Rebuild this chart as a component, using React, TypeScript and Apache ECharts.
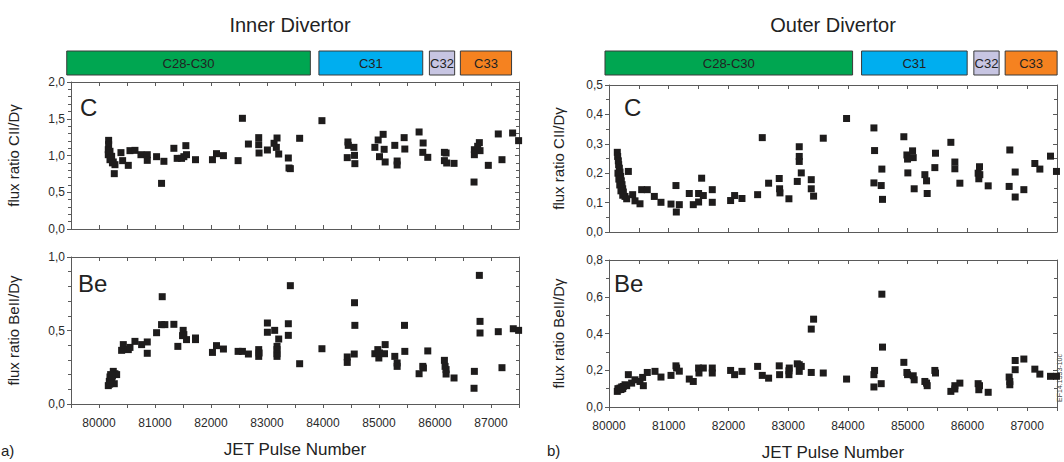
import React, { useEffect, useRef } from "react";
import * as echarts from "echarts";

// ---- data ----
const innerC: [number, number][] = [
  [80172, 1.206], [80172, 1.147], [80166, 1.079], [80196, 1.057], [80166, 1.011], [80226, 0.989],
  [80196, 0.943], [80255, 0.912], [80285, 0.875], [80273, 0.753], [80180, 1.03], [80210, 0.96],
  [80240, 0.9], [80392, 1.039], [80422, 0.93], [80523, 0.866], [80553, 1.066], [80642, 1.07],
  [80749, 1.011], [80862, 1.011], [80862, 0.934], [81028, 0.984], [81117, 0.621], [81159, 0.921],
  [81337, 1.098], [81396, 0.961], [81474, 0.961], [81551, 1.134], [81563, 1.011], [81515, 0.984],
  [81723, 0.943], [82026, 0.943], [82098, 1.025], [82222, 0.998], [82484, 0.93], [82561, 1.506],
  [82668, 1.156], [82852, 1.243], [82852, 1.147], [82858, 1.034], [83007, 1.075], [83126, 1.166],
  [83179, 1.238], [83167, 1.111], [83209, 1.02], [83381, 0.966], [83393, 0.83], [83417, 0.821],
  [83583, 1.234], [83981, 1.474], [84445, 1.184], [84451, 1.138], [84433, 0.971], [84552, 1.111],
  [84563, 1.002], [84569, 0.889], [84926, 1.111], [84985, 1.211], [85009, 0.984], [85074, 1.288],
  [85092, 1.084], [85110, 0.912], [85282, 1.138], [85324, 0.925], [85324, 0.871], [85449, 1.243],
  [85461, 1.088], [85716, 1.32], [85788, 1.17], [85782, 1.043], [85871, 0.975], [86168, 1.043],
  [86198, 1.034], [86168, 0.93], [86209, 0.898], [86340, 0.893], [86697, 0.639], [86703, 1.011],
  [86703, 1.079], [86792, 1.175], [86804, 1.066], [86762, 1.125], [86952, 0.866], [87130, 1.293],
  [87196, 0.943], [87386, 1.306], [87493, 1.202],
];

const innerBe: [number, number][] = [
  [80166, 0.125], [80184, 0.154], [80196, 0.184], [80208, 0.2], [80255, 0.222], [80285, 0.206],
  [80273, 0.138], [80226, 0.166], [80315, 0.2], [80190, 0.135], [80240, 0.19], [80404, 0.365],
  [80434, 0.404], [80523, 0.37], [80553, 0.385], [80642, 0.426], [80761, 0.404], [80862, 0.422],
  [80862, 0.345], [81028, 0.485], [81129, 0.73], [81117, 0.54], [81176, 0.54], [81337, 0.542],
  [81408, 0.392], [81503, 0.501], [81515, 0.472], [81563, 0.438], [81492, 0.465], [81723, 0.449],
  [81723, 0.438], [82026, 0.351], [82098, 0.397], [82222, 0.374], [82484, 0.358], [82561, 0.358],
  [82668, 0.34], [82852, 0.37], [82852, 0.324], [82858, 0.347], [83007, 0.551], [83007, 0.488],
  [83137, 0.501], [83179, 0.392], [83179, 0.37], [83179, 0.342], [83179, 0.324], [83209, 0.442],
  [83381, 0.546], [83381, 0.467], [83417, 0.805], [83583, 0.274], [83981, 0.376], [84433, 0.32],
  [84433, 0.283], [84558, 0.34], [84563, 0.689], [84569, 0.535], [84926, 0.342], [84979, 0.37],
  [84997, 0.313], [85009, 0.347], [85098, 0.342], [85110, 0.404], [85282, 0.324], [85324, 0.279],
  [85324, 0.256], [85455, 0.535], [85461, 0.358], [85716, 0.206], [85782, 0.256], [85793, 0.245],
  [85871, 0.361], [86168, 0.297], [86180, 0.256], [86198, 0.234], [86198, 0.204], [86340, 0.177],
  [86697, 0.107], [86703, 0.222], [86792, 0.875], [86804, 0.562], [86804, 0.483], [87130, 0.492],
  [87196, 0.247], [87398, 0.512], [87493, 0.501],
];

const outerC: [number, number][] = [
  [80139, 0.271], [80145, 0.257], [80156, 0.242], [80162, 0.229], [80173, 0.217], [80184, 0.204],
  [80195, 0.189], [80206, 0.174], [80218, 0.161], [80229, 0.147], [80240, 0.136], [80268, 0.121],
  [80296, 0.113], [80150, 0.2], [80165, 0.18], [80180, 0.16], [80200, 0.14], [80230, 0.125],
  [80324, 0.206], [80396, 0.127], [80435, 0.106], [80519, 0.096], [80547, 0.144], [80641, 0.144],
  [80759, 0.121], [80870, 0.101], [81038, 0.095], [81121, 0.158], [81127, 0.068], [81177, 0.093],
  [81344, 0.131], [81411, 0.093], [81500, 0.102], [81500, 0.131], [81551, 0.183], [81579, 0.124],
  [81729, 0.144], [81729, 0.101], [82036, 0.107], [82103, 0.124], [82226, 0.114], [82488, 0.127],
  [82566, 0.321], [82672, 0.166], [82850, 0.182], [82856, 0.147], [82862, 0.133], [83012, 0.113],
  [83152, 0.172], [83185, 0.29], [83185, 0.257], [83185, 0.24], [83219, 0.201], [83386, 0.178],
  [83386, 0.147], [83425, 0.122], [83587, 0.319], [83977, 0.386], [84435, 0.354], [84446, 0.277],
  [84435, 0.167], [84557, 0.158], [84568, 0.214], [84579, 0.111], [84936, 0.324], [84987, 0.262],
  [84998, 0.248], [85003, 0.201], [85082, 0.276], [85093, 0.253], [85109, 0.147], [85288, 0.195],
  [85316, 0.174], [85327, 0.131], [85466, 0.268], [85455, 0.219], [85723, 0.305], [85790, 0.238],
  [85790, 0.215], [85874, 0.166], [86180, 0.2], [86191, 0.181], [86203, 0.222], [86208, 0.195],
  [86348, 0.157], [86710, 0.279], [86699, 0.155], [86800, 0.204], [86800, 0.119], [86945, 0.144],
  [87129, 0.233], [87213, 0.214], [87391, 0.258], [87491, 0.206],
];

const outerBe: [number, number][] = [
  [80139, 0.085], [80156, 0.094], [80184, 0.103], [80212, 0.109], [80240, 0.112], [80268, 0.121],
  [80296, 0.116], [80150, 0.1], [80200, 0.095], [80230, 0.1], [80324, 0.176], [80379, 0.13],
  [80435, 0.148], [80519, 0.139], [80563, 0.161], [80575, 0.116], [80641, 0.188], [80770, 0.194],
  [80870, 0.163], [81038, 0.172], [81121, 0.224], [81132, 0.212], [81177, 0.195], [81344, 0.152],
  [81411, 0.139], [81500, 0.212], [81506, 0.185], [81579, 0.212], [81729, 0.212], [81729, 0.185],
  [82036, 0.199], [82103, 0.176], [82226, 0.194], [82488, 0.221], [82566, 0.172], [82672, 0.157],
  [82850, 0.224], [82856, 0.176], [83012, 0.197], [83012, 0.176], [83018, 0.212], [83152, 0.235],
  [83185, 0.23], [83185, 0.194], [83219, 0.221], [83386, 0.424], [83425, 0.478], [83386, 0.188],
  [83587, 0.185], [83977, 0.152], [84435, 0.176], [84446, 0.199], [84435, 0.109], [84557, 0.127],
  [84568, 0.614], [84579, 0.326], [84936, 0.243], [84987, 0.188], [84998, 0.176], [85093, 0.17],
  [85109, 0.148], [85288, 0.139], [85316, 0.13], [85327, 0.116], [85455, 0.199], [85466, 0.185],
  [85723, 0.085], [85790, 0.116], [85790, 0.098], [85874, 0.13], [86180, 0.127], [86191, 0.094],
  [86203, 0.116], [86348, 0.08], [86710, 0.121], [86699, 0.163], [86710, 0.139], [86800, 0.253],
  [86800, 0.203], [86945, 0.261], [87129, 0.206], [87213, 0.179], [87391, 0.167], [87491, 0.167],
];

const campaignNames = ["C28-C30", "C31", "C32", "C33"];
const campaignColors = ["#00a651", "#00aeef", "#c7c5e2", "#f58220"];
const innerCampaigns: [number, number][] = [[79424, 83774], [83927, 85781], [85900, 86351], [86453, 87367]];
const outerCampaigns: [number, number][] = [[79933, 84078], [84228, 85996], [86108, 86531], [86632, 87502]];

const FONT = "'Liberation Sans', Arial, Helvetica, sans-serif";
const AX = "#5a5a5a";

const commaFmt = (v: number) => v.toFixed(1).replace(".", ",");

function App() {
  const ref = useRef<HTMLDivElement>(null);
  useEffect(() => {
    document.body.style.margin = "0";
    if (!ref.current) return;
    const chart = echarts.init(ref.current, undefined, { renderer: "svg" });

    const panels = [
      { left: 71, top: 82, width: 448, height: 147, xmin: 79500, ymax: 2.0, yint: 0.5, ysplit: 5, bottom: false, name: "flux ratio CII/D\u03b3", nameGap: 50 },
      { left: 71, top: 257, width: 448, height: 147, xmin: 79500, ymax: 1.0, yint: 0.5, ysplit: 5, bottom: true, name: "flux ratio BeII/D\u03b3", nameGap: 50 },
      { left: 609, top: 85, width: 448, height: 147, xmin: 80000, ymax: 0.5, yint: 0.1, ysplit: 2, bottom: false, name: "flux ratio CII/D\u03b3", nameGap: 43 },
      { left: 609, top: 260, width: 448, height: 147, xmin: 80000, ymax: 0.8, yint: 0.2, ysplit: 2, bottom: true, name: "flux ratio BeII/D\u03b3", nameGap: 43 },
    ];
    const grids: any[] = panels.map((p) => ({
      left: p.left, top: p.top, width: p.width, height: p.height, containLabel: false, outerBoundsMode: "none",
    }));
    grids.push({ left: 71, top: 51, width: 448, height: 24, containLabel: false, outerBoundsMode: "none" });
    grids.push({ left: 609, top: 51, width: 448, height: 24, containLabel: false, outerBoundsMode: "none" });

    const xAxes: any[] = [];
    const yAxes: any[] = [];
    panels.forEach((p, i) => {
      xAxes.push({
        type: "value", gridIndex: i, min: p.xmin, max: 87500, interval: 500, position: "bottom",
        axisLine: { show: true, onZero: false, lineStyle: { color: AX, width: 1 } },
        axisTick: { show: true, inside: !p.bottom, length: 4, lineStyle: { color: AX } },
        splitLine: { show: false },
        axisLabel: {
          show: p.bottom, interval: 0, margin: 13, color: "#2a2a2a", fontSize: 12, fontFamily: FONT,
          formatter: (v: number) => (v % 1000 === 0 ? String(v) : ""),
        },
        name: p.bottom ? "JET Pulse Number" : "", nameLocation: "middle", nameGap: 37,
        nameTextStyle: { fontSize: 17, color: "#222", fontFamily: FONT },
      });
      xAxes.push({
        type: "value", gridIndex: i, min: p.xmin, max: 87500, interval: 500, position: "top",
        axisLine: { show: true, onZero: false, lineStyle: { color: AX, width: 1 } },
        axisTick: { show: true, inside: true, length: 4, lineStyle: { color: AX } },
        splitLine: { show: false }, axisLabel: { show: false },
      });
      yAxes.push({
        type: "value", gridIndex: i, min: 0, max: p.ymax, interval: p.yint, position: "left",
        axisLine: { show: true, onZero: false, lineStyle: { color: AX, width: 1 } },
        axisTick: { show: true, inside: false, length: 4, lineStyle: { color: AX } },
        minorTick: { show: true, splitNumber: p.ysplit, length: 3, lineStyle: { color: AX } },
        splitLine: { show: false },
        axisLabel: { color: "#2a2a2a", fontSize: 12, margin: 6, fontFamily: FONT, formatter: commaFmt },
        name: p.name, nameLocation: "middle", nameGap: p.nameGap, nameRotate: 90,
        nameTextStyle: { fontSize: 15, color: "#222", fontFamily: FONT },
      });
      yAxes.push({
        type: "value", gridIndex: i, min: 0, max: p.ymax, interval: p.yint, position: "right",
        axisLine: { show: true, onZero: false, lineStyle: { color: AX, width: 1 } },
        axisTick: { show: true, inside: true, length: 4, lineStyle: { color: AX } },
        minorTick: { show: true, splitNumber: p.ysplit, length: 3, lineStyle: { color: AX } },
        splitLine: { show: false }, axisLabel: { show: false },
      });
    });
    // campaign bar grids
    [79500, 80000].forEach((xmin, k) => {
      xAxes.push({ type: "value", gridIndex: 4 + k, min: xmin, max: 87500, show: false });
      yAxes.push({ type: "value", gridIndex: 4 + k, min: 0, max: 1, show: false });
    });

    const scatterData = [innerC, innerBe, outerC, outerBe];
    const series: any[] = scatterData.map((d, i) => ({
      type: "scatter", xAxisIndex: 2 * i, yAxisIndex: 2 * i, data: d,
      symbol: "rect", symbolSize: 7, itemStyle: { color: "#1e1c1c", opacity: 1 }, clip: false,
    }));

    const campaignSeries = (ranges: [number, number][], idx: number) => ({
      type: "custom", xAxisIndex: 8 + idx, yAxisIndex: 8 + idx, clip: false,
      data: ranges.map((r, j) => [r[0], r[1], j]),
      renderItem: (params: any, api: any) => {
        const s = api.coord([api.value(0), 1]);
        const e = api.coord([api.value(1), 0]);
        const j = api.value(2);
        return {
          type: "group",
          children: [
            {
              type: "rect",
              shape: { x: s[0], y: s[1], width: e[0] - s[0], height: e[1] - s[1] },
              style: { fill: campaignColors[j], stroke: "#3a3a3a", lineWidth: 1 },
            },
            {
              type: "text",
              style: {
                x: (s[0] + e[0]) / 2, y: (s[1] + e[1]) / 2, text: campaignNames[j],
                fill: "#222", fontSize: 13, fontFamily: FONT, align: "center", verticalAlign: "middle",
              },
            },
          ],
        };
      },
    });
    series.push(campaignSeries(innerCampaigns, 0));
    series.push(campaignSeries(outerCampaigns, 1));

    const txt = (x: number, y: number, text: string, fontSize: number, extra: any = {}) => ({
      type: "text", x, y,
      style: { text, fontSize, fontFamily: FONT, fill: "#222", ...extra },
    });

    chart.setOption({
      animation: false,
      backgroundColor: "#ffffff",
      grid: grids,
      xAxis: xAxes,
      yAxis: yAxes,
      series,
      graphic: [
        txt(290, 25, "Inner Divertor", 20, { align: "center", verticalAlign: "middle" }),
        txt(833, 25, "Outer Divertor", 20, { align: "center", verticalAlign: "middle" }),
        txt(80, 95, "C", 24),
        txt(78, 271, "Be", 24),
        txt(624, 95, "C", 24),
        txt(614, 271, "Be", 24),
        txt(1, 443, "a)", 15),
        txt(547, 443, "b)", 15),
        {
          type: "text", x: 1059, y: 378, rotation: Math.PI / 2,
          style: { text: "EF14.1333-10c", fontSize: 7, fontFamily: FONT, fill: "#444", align: "center", verticalAlign: "middle" },
        },
      ],
    });
    return () => chart.dispose();
  }, []);
  return <div ref={ref} style={{ width: 1064, height: 462 }} />;
}

export default App;
